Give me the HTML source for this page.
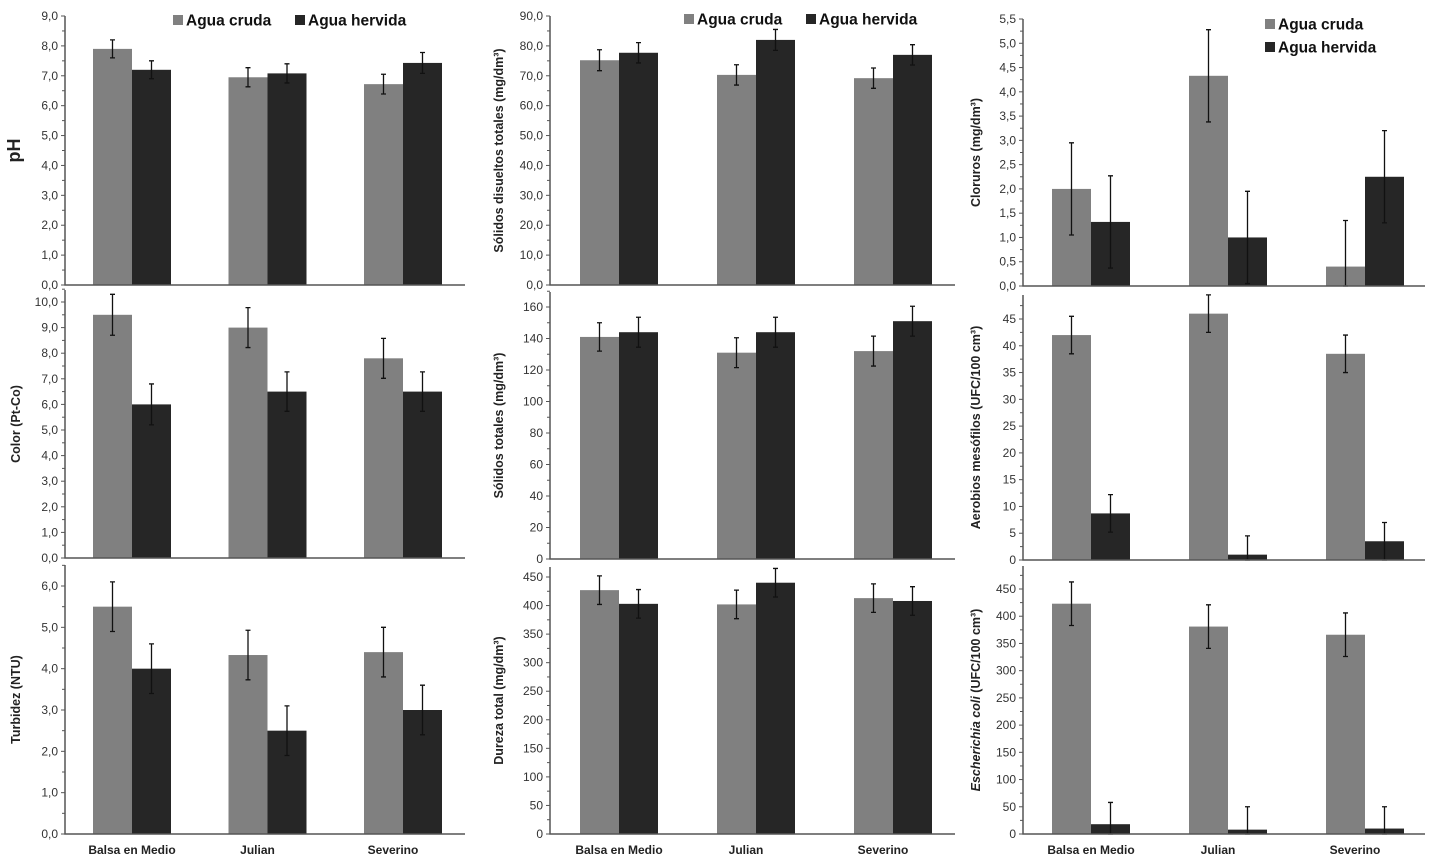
<!DOCTYPE html>
<html><head><meta charset="utf-8">
<style>
html,body{margin:0;padding:0;background:#fff;}
svg{display:block;font-family:"Liberation Sans",Arial,sans-serif;}
</style></head>
<body>
<svg id="fig" width="1432" height="866" viewBox="0 0 1432 866"></svg>
<script>
const categories = ["Balsa en Medio","Julian","Severino"];
const seriesNames = ["Agua cruda","Agua hervida"];

const phCruda = [7.9, 6.95, 6.72];
const phCrudaErr = [0.3, 0.32, 0.33];
const phHervida = [7.2, 7.08, 7.43];
const phHervidaErr = [0.3, 0.32, 0.35];

const colorCruda = [9.5, 9.0, 7.8];
const colorCrudaErr = [0.8, 0.78, 0.78];
const colorHervida = [6.0, 6.5, 6.5];
const colorHervidaErr = [0.8, 0.77, 0.77];

const turbCruda = [5.5, 4.33, 4.4];
const turbCrudaErr = [0.6, 0.6, 0.6];
const turbHervida = [4.0, 2.5, 3.0];
const turbHervidaErr = [0.6, 0.6, 0.6];

const sdtCruda = [75.2, 70.3, 69.2];
const sdtCrudaErr = [3.5, 3.4, 3.4];
const sdtHervida = [77.7, 82.0, 77.0];
const sdtHervidaErr = [3.4, 3.5, 3.4];

const stCruda = [141, 131, 132];
const stCrudaErr = [9, 9.5, 9.5];
const stHervida = [144, 144, 151];
const stHervidaErr = [9.5, 9.5, 9.5];

const durCruda = [427, 402, 413];
const durCrudaErr = [25, 25, 25];
const durHervida = [403, 440, 408];
const durHervidaErr = [25, 25, 25];

const cloCruda = [2.0, 4.33, 0.4];
const cloCrudaErr = [0.95, 0.95, 0.95];
const cloHervida = [1.32, 1.0, 2.25];
const cloHervidaErr = [0.95, 0.95, 0.95];

const aerCruda = [42, 46, 38.5];
const aerCrudaErr = [3.5, 3.5, 3.5];
const aerHervida = [8.7, 1.0, 3.5];
const aerHervidaErr = [3.5, 3.5, 3.5];

const ecoCruda = [423, 381, 366];
const ecoCrudaErr = [40, 40, 40];
const ecoHervida = [18, 8, 10];
const ecoHervidaErr = [40, 42, 40];

const NS = "http://www.w3.org/2000/svg";
const svg = document.getElementById('fig');
function mk(tag, attrs, parent){const e=document.createElementNS(NS,tag);for(const k in attrs)e.setAttribute(k,attrs[k]);(parent||svg).appendChild(e);return e;}

const cols = [{x0:65,x1:465,lab:20,off:67,sp:135.5},{x0:550,x1:955,lab:503,off:69,sp:137},{x0:1023,x1:1425,lab:980,off:68,sp:137}];
const panels = [
 {c:0,name:"ph",title:"pH",big:true,a:phCruda,ae:phCrudaErr,b:phHervida,be:phHervidaErr,step:1,dec:1,max:9,zeroPx:285,topValPx:16,topVal:9,axisTop:16},
 {c:0,name:"color",title:"Color (Pt-Co)",a:colorCruda,ae:colorCrudaErr,b:colorHervida,be:colorHervidaErr,step:1,dec:1,max:10,zeroPx:558,topValPx:302,topVal:10,axisTop:290},
 {c:0,name:"turbidez",title:"Turbidez (NTU)",a:turbCruda,ae:turbCrudaErr,b:turbHervida,be:turbHervidaErr,step:1,dec:1,max:6,zeroPx:834,topValPx:586,topVal:6,axisTop:565,xlabels:true},
 {c:1,name:"sdt",title:"Sólidos disueltos totales (mg/dm³)",a:sdtCruda,ae:sdtCrudaErr,b:sdtHervida,be:sdtHervidaErr,step:10,dec:1,max:90,zeroPx:285,topValPx:16,topVal:90,axisTop:16},
 {c:1,name:"st",title:"Sólidos totales (mg/dm³)",a:stCruda,ae:stCrudaErr,b:stHervida,be:stHervidaErr,step:20,dec:0,max:160,zeroPx:559,topValPx:307,topVal:160,axisTop:292},
 {c:1,name:"dureza",title:"Dureza total (mg/dm³)",a:durCruda,ae:durCrudaErr,b:durHervida,be:durHervidaErr,step:50,dec:0,max:450,zeroPx:834,topValPx:577,topVal:450,axisTop:567,xlabels:true},
 {c:2,name:"cloruros",title:"Cloruros (mg/dm³)",a:cloCruda,ae:cloCrudaErr,b:cloHervida,be:cloHervidaErr,step:0.5,dec:1,max:5.5,zeroPx:286,topValPx:19,topVal:5.5,axisTop:19},
 {c:2,name:"aerobios",title:"Aerobios mesófilos (UFC/100 cm³)",a:aerCruda,ae:aerCrudaErr,b:aerHervida,be:aerHervidaErr,step:5,dec:0,max:45,zeroPx:560,topValPx:319,topVal:45,axisTop:295},
 {c:2,name:"ecoli",title:"ecoli",a:ecoCruda,ae:ecoCrudaErr,b:ecoHervida,be:ecoHervidaErr,step:50,dec:0,max:450,zeroPx:834,topValPx:589,topVal:450,axisTop:566,xlabels:true}
];
const GRAY="#808080", DARK="#262626", AX="#555";
const BW=39;

panels.forEach(p=>{
  const col=cols[p.c];
  const g=mk('g',{});
  
  
  const y=v=>p.zeroPx-(v/p.topVal)*(p.zeroPx-p.topValPx);
  const cx=i=>col.x0+col.off+i*col.sp;
  [[p.a,p.ae,GRAY,-BW,'cruda'],[p.b,p.be,DARK,0,'hervida']].forEach(([vals,errs,fill,off,s])=>{
    vals.forEach((v,i)=>{
      const r=mk('rect',{x:cx(i)+off,y:y(v),width:BW,height:p.zeroPx-y(v),fill:fill},g);
      
      
      const ex=cx(i)+off+BW/2, hi=y(v+errs[i]), lo=y(Math.max(0,v-errs[i]));
      const e=mk('path',{d:`M${ex},${hi}V${lo}M${ex-2.5},${hi}H${ex+2.5}M${ex-2.5},${lo}H${ex+2.5}`,stroke:"#111","stroke-width":1.3,fill:"none"},g);
      
      
    });
  });
  const ax=mk('path',{d:`M${col.x0},${p.axisTop}V${p.zeroPx}H${col.x1}`,stroke:AX,"stroke-width":1.5,fill:"none"},g);
  
  
  const n=Math.round(p.max/p.step);
  for(let k=0;k<=n;k++){
    const v=k*p.step, ty=y(v);
    mk('line',{x1:col.x0-4,x2:col.x0,y1:ty,y2:ty,stroke:AX,"stroke-width":1},g);
    const hv=y(v+p.step/2);
    if(hv>=p.axisTop-1) mk('line',{x1:col.x0-3,x2:col.x0,y1:hv,y2:hv,stroke:AX,"stroke-width":1},g);
    const t=mk('text',{x:col.x0-7,y:ty+4,"text-anchor":"end","font-size":12,fill:"#333"},g);
    t.textContent=v.toFixed(p.dec).replace('.',',');
    
    
  }
  const midY=(p.axisTop+p.zeroPx)/2;
  const tt=mk('text',{x:col.lab,y:midY,"text-anchor":"middle","font-weight":"bold","font-size":p.big?18:12.5,fill:"#222",transform:`rotate(-90 ${col.lab} ${midY})`},g);
  if(p.name==='ecoli'){
    const s1=mk('tspan',{"font-style":"italic"},tt); s1.textContent="Escherichia coli";
    const s2=mk('tspan',{},tt); s2.textContent="  (UFC/100 cm³)";
  } else tt.textContent=p.title;
  
  
  if(p.xlabels){
    categories.forEach((c,i)=>{
      const t=mk('text',{x:cx(i)-(i?10:0),y:854,"text-anchor":"middle","font-weight":"bold","font-size":12,fill:"#222"},g);
      t.textContent=c;
      
      
    });
  }
});

function legend(x,y,fill,label){
  const g=mk('g',{});
  
  
  mk('rect',{x:x,y:y-5,width:10,height:10,fill:fill},g);
  const t=mk('text',{x:x+13,y:y+5.5,"font-weight":"bold","font-size":15.5,fill:"#111"},g);
  t.textContent=label;
}
legend(173,20,GRAY,seriesNames[0]); legend(295,20,DARK,seriesNames[1]);
legend(684,19,GRAY,seriesNames[0]); legend(806,19,DARK,seriesNames[1]);
legend(1265,24,GRAY,seriesNames[0]); legend(1265,47,DARK,seriesNames[1]);
</script>
</body></html>
